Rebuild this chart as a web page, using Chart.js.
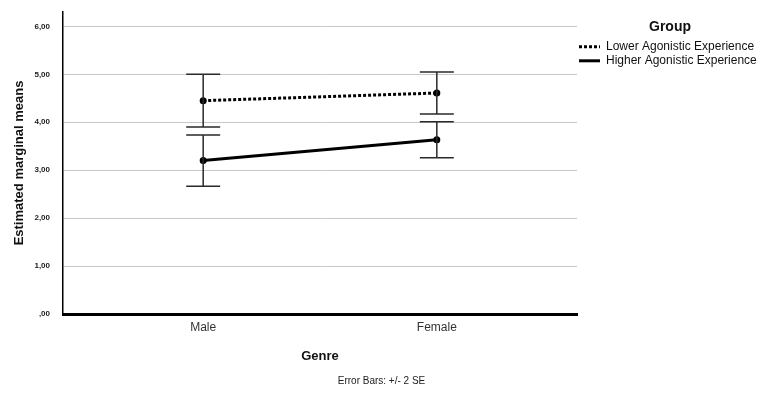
<!DOCTYPE html>
<html>
<head>
<meta charset="utf-8">
<script src="https://cdn.jsdelivr.net/npm/chart.js@4.4.1/dist/chart.umd.min.js"></script>
<style>
  body { margin: 0; background: #fff; }
</style>
</head>
<body>
<canvas id="emmChart" width="763" height="402"></canvas>
<script>
const genres = ['Male', 'Female'],
      yTicks = [0, 1, 2, 3, 4, 5, 6],
      lowerMeans = [4.45, 4.61],
      lowerErr = [0.55, 0.44],
      higherMeans = [3.20, 3.635],
      higherErr = [0.535, 0.375];

const toPoints = arr => arr.map((v, i) => ({ x: i, y: v }));

// draws +/- 2 SE whiskers with caps
const errorBars = {
    id: 'errorBars',
    afterDatasetsDraw(chart) {
        const ctx = chart.ctx,
              xs = chart.scales.x,
              ys = chart.scales.y;
        ctx.save();
        ctx.strokeStyle = '#2a2a2a';
        ctx.lineWidth = 1.5;
        chart.data.datasets.forEach(ds => {
            ds.data.forEach((p, i) => {
                const x = xs.getPixelForValue(p.x),
                      top = ys.getPixelForValue(p.y + ds.err[i]),
                      bot = ys.getPixelForValue(p.y - ds.err[i]);
                ctx.beginPath();
                ctx.moveTo(x, top); ctx.lineTo(x, bot);
                ctx.moveTo(x - 17, top); ctx.lineTo(x + 17, top);
                ctx.moveTo(x - 17, bot); ctx.lineTo(x + 17, bot);
                ctx.stroke();
            });
        });
        ctx.restore();
    }
};

new Chart(document.getElementById('emmChart').getContext('2d'), {
    type: 'line',
    data: {
        datasets: [{
            label: 'Lower Agonistic Experience',
            data: toPoints(lowerMeans),
            err: lowerErr,
            borderColor: '#000',
            backgroundColor: '#000',
            borderWidth: 3,
            borderDash: [3, 2],
            pointRadius: 2
        }, {
            label: 'Higher Agonistic Experience',
            data: toPoints(higherMeans),
            err: higherErr,
            borderColor: '#000',
            backgroundColor: '#000',
            borderWidth: 3,
            pointRadius: 2
        }]
    },
    options: {
        responsive: false,
        animation: false,
        layout: { padding: { top: 12, left: 0, right: 0, bottom: 9 } },
        plugins: {
            tooltip: { enabled: false },
            legend: {
                position: 'right',
                align: 'start',
                maxWidth: 186,
                title: {
                    display: true,
                    text: 'Group',
                    color: '#111',
                    font: { family: 'Liberation Sans', size: 14, weight: 'bold' },
                    padding: { top: 8, bottom: 2 }
                },
                labels: {
                    color: '#111',
                    font: { family: 'Liberation Sans', size: 12 },
                    boxWidth: 21,
                    boxHeight: 3,
                    padding: 2,
                    usePointStyle: true,
                    pointStyleWidth: 21,
                    generateLabels(chart) {
                        return chart.data.datasets.map((ds, i) => ({
                            text: ds.label,
                            datasetIndex: i,
                            pointStyle: 'line',
                            strokeStyle: '#000',
                            fillStyle: '#000',
                            lineWidth: 3,
                            lineDash: ds.borderDash || [],
                            fontColor: '#111'
                        }));
                    }
                }
            },
            subtitle: {
                display: true,
                position: 'bottom',
                text: 'Error Bars: +/- 2 SE',
                color: '#222',
                font: { family: 'Liberation Sans', size: 10 },
                padding: { top: 6, bottom: 6 }
            }
        },
        scales: {
            x: {
                type: 'linear',
                min: -0.6,
                max: 1.6,
                afterBuildTicks: axis => { axis.ticks = genres.map((g, i) => ({ value: i })); },
                ticks: {
                    callback: v => genres[v],
                    color: '#333',
                    font: { family: 'Liberation Sans', size: 12 },
                    padding: -2
                },
                grid: { display: false },
                border: { color: '#000', width: 3 },
                title: {
                    display: true,
                    text: 'Genre',
                    color: '#111',
                    font: { family: 'Liberation Sans', size: 13, weight: 'bold' },
                    padding: { top: 16, bottom: 5 }
                }
            },
            y: {
                min: 0,
                max: 6.3,
                afterBuildTicks: axis => { axis.ticks = yTicks.map(v => ({ value: v })); },
                afterFit: axis => {
                    axis.width = 63;
                    axis.paddingTop = 5;
                    axis.paddingBottom = 5;
                },
                ticks: {
                    callback: v => v === 0 ? ',00' : v.toFixed(2).replace('.', ','),
                    color: '#222',
                    font: { family: 'Liberation Sans', size: 8, weight: 'bold' },
                    padding: 13
                },
                grid: { color: '#c8c8c8', drawTicks: false },
                border: { color: '#000', width: 1.5 },
                title: {
                    display: true,
                    text: 'Estimated marginal means',
                    color: '#111',
                    font: { family: 'Liberation Sans', size: 13, weight: 'bold' },
                    padding: { top: 12, bottom: 0 }
                }
            }
        }
    },
    plugins: [errorBars]
});
</script>
</body>
</html>
